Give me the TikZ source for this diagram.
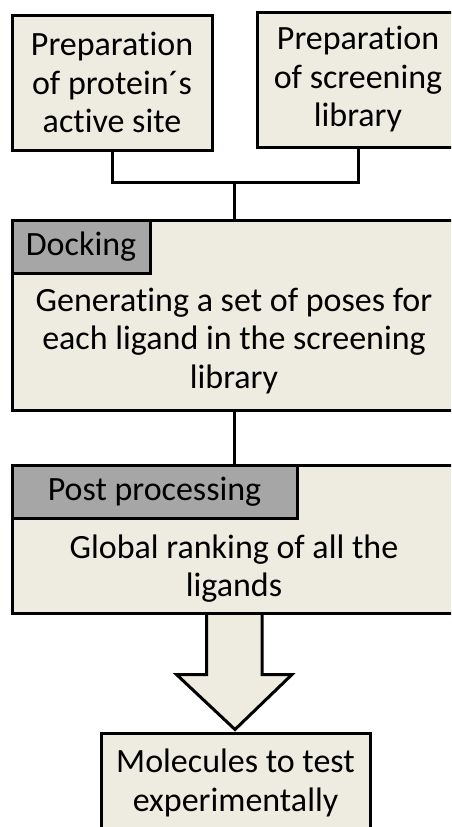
\documentclass[tikz,border=0pt]{standalone}
\usepackage{fontspec}
\setmainfont{Carlito}[Ligatures=NoCommon]
\usepackage{tikz}
\usetikzlibrary{positioning, calc, backgrounds}
\definecolor{boxfill}{HTML}{EEECE1}
\definecolor{headfill}{HTML}{A6A6A6}
\tikzset{
  stepbox/.style={
    rectangle, draw, line width=3pt, fill=boxfill,
    align=center, inner sep=0pt, font=\fontsize{34}{38.5}\selectfont
  },
  headbox/.style={
    rectangle, draw, line width=3pt, fill=headfill, anchor=north west,
    inner sep=0pt, minimum height=53pt, font=\fontsize{34}{38.5}\selectfont
  },
  bodytext/.style={
    align=center, inner sep=0pt, anchor=north, font=\fontsize{34}{38.5}\selectfont
  },
  linkline/.style={
    line width=3pt
  },
  blockarrow/.style={
    draw, line width=3pt, fill=boxfill, line join=miter
  }
}

\begin{document}
\begin{tikzpicture}[x=1pt, y=-1pt]
  \useasboundingbox (0,0) rectangle (451,827);
  \clip (0,0) rectangle (451,827);

  % preparation steps
  \node[stepbox, minimum width=200pt, minimum height=135pt] (protSite) at (112,82.5) {Preparation\\of protein´s\\active site};
  \node[stepbox, minimum width=202pt, minimum height=135pt, right=42pt of protSite, yshift=3pt] (screenLib) {Preparation\\of screening\\library};

  % docking
  \node[stepbox, minimum width=444pt, minimum height=190pt] (dock) at (234,315) {};
  \node[headbox, minimum width=138pt] (dockHead) at (dock.north west) {Docking};
  \node[bodytext] (dockText) at ($(dock.center |- dockHead.south)+(0,13)$) {Generating a set of poses for\\each ligand in the screening\\library};

  % post processing
  \node[stepbox, minimum width=444pt, minimum height=148pt] (post) at (234,539) {};
  \node[headbox, minimum width=285pt] (postHead) at (post.north west) {Post processing};
  \node[bodytext] (postText) at ($(post.center |- postHead.south)+(0,15)$) {Global ranking of all the\\ligands};

  % result
  \node[stepbox, minimum width=269pt, minimum height=100pt] (molTest) at (235.5,783) {Molecules to test\\experimentally};

  \coordinate (joinPt) at (dock.north |- 0,182);
  \draw[linkline] (protSite.south) |- (joinPt) -| (screenLib.south);
  \draw[linkline] (joinPt) -- (dock.north);
  \draw[linkline] (dock.south) -- (post.north);

  \begin{scope}[on background layer]
    \draw[blockarrow] ($(post.south)+(-27.5,-2)$) -- ++(0,62) -- ++(-30,0)
      -- ($(post.south)+(1,115)$) -- ($(post.south)+(58,60)$) -- ++(-30,0)
      -- ($(post.south)+(28,-2)$) -- cycle;
  \end{scope}
\end{tikzpicture}
\end{document}
